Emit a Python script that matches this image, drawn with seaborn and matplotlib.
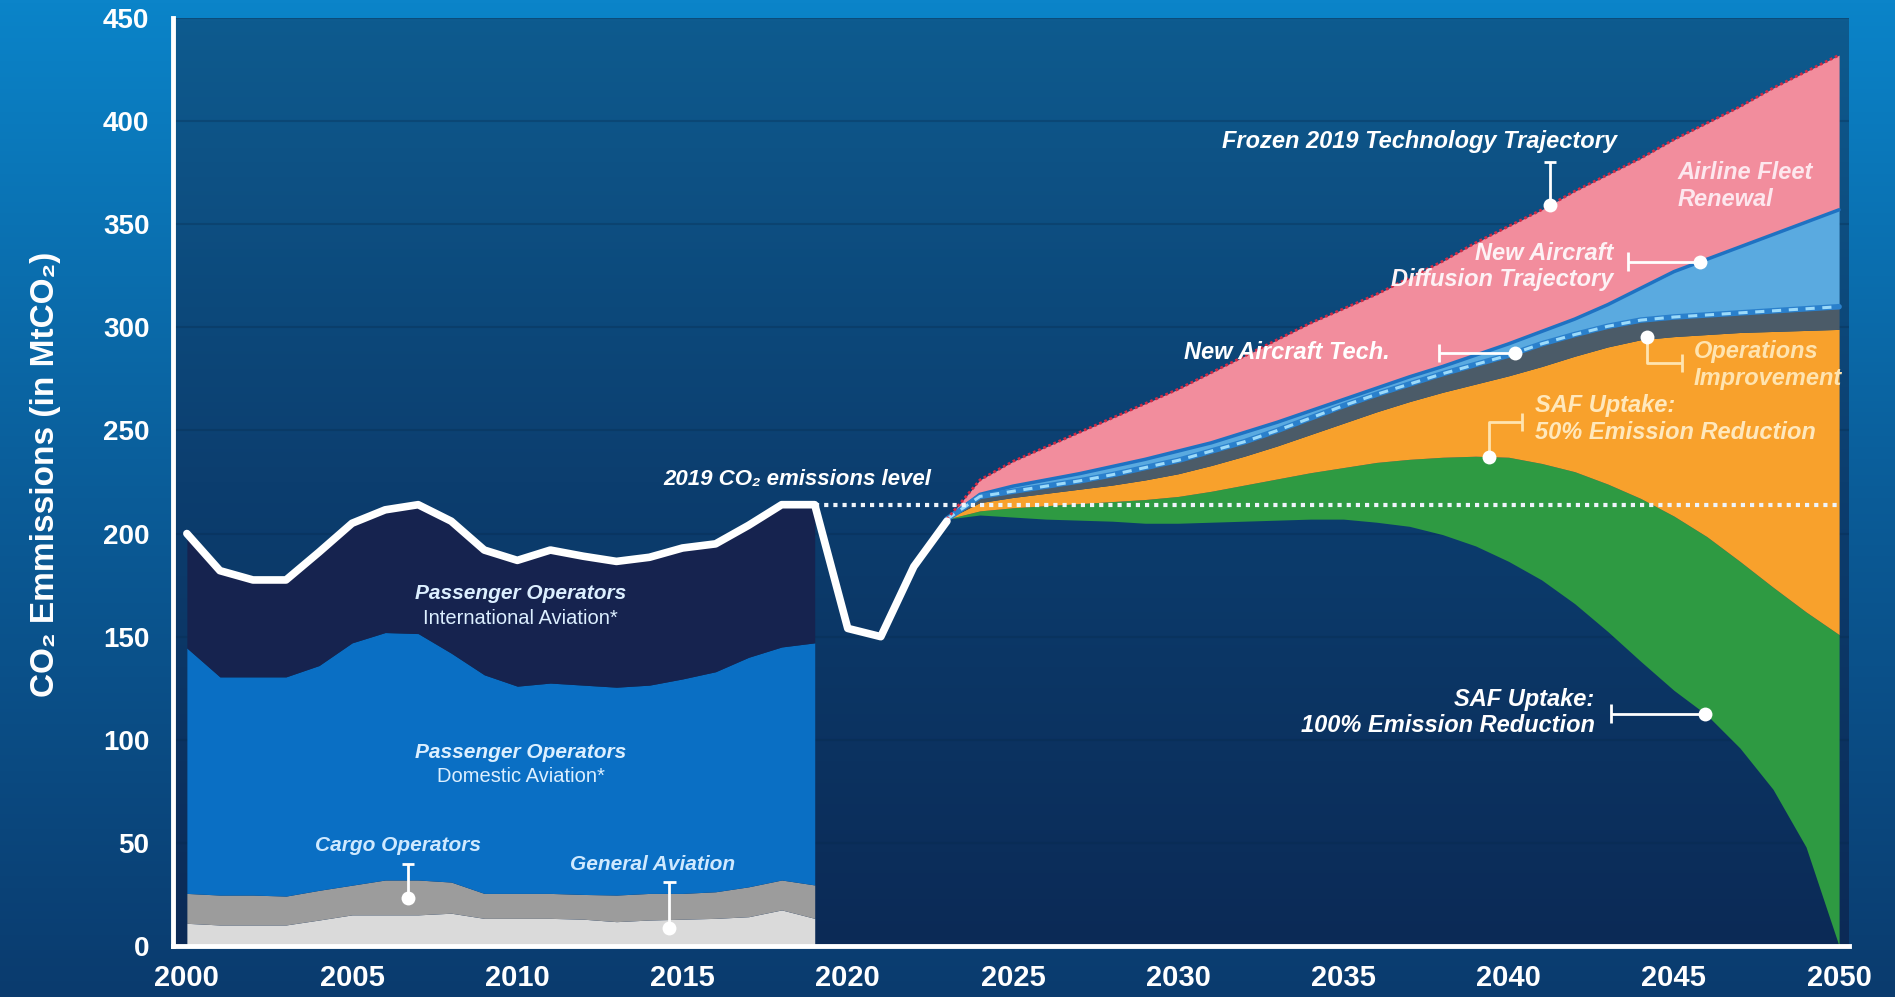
import numpy as np
import pandas as pd
import seaborn as sns
import matplotlib.pyplot as plt
from matplotlib.colors import LinearSegmentedColormap

# === DATA ===

#historical emissions by segment, upper edge of each stacked band (MtCO2)
hist_years = list(range(2000, 2020))
general_aviation = [11, 10.2, 10.2, 10.2, 12.6, 15.1, 15.1, 15.1, 15.9, 13.4,
                    13.4, 13.4, 13, 11.8, 12.6, 13, 13.4, 14.2, 17.5, 13.4]
cargo_top = [25.5, 24.7, 24.7, 24.2, 27, 29.5, 32, 32, 31, 25.5,
             25.5, 25.5, 25, 24.7, 25.5, 25.5, 26.3, 28.7, 32, 29.6]
domestic_top = [144.5, 130.5, 130.5, 130.5, 136, 147, 152, 151.5, 142, 131.5,
                126, 127.5, 126.5, 125.5, 126.5, 129.5, 133, 140, 145, 147]

#total emissions (white line) 2000-2023
total_years = list(range(2000, 2024))
total = [200, 182, 177.5, 177.5, 191, 205, 211.5, 214, 206, 192,
         187, 192, 189, 186.5, 188.5, 193, 195, 204, 214, 214,
         154, 150, 184, 206]

level_2019 = 214

#projection 2023-2050, upper edge of each wedge
proj_years = list(range(2023, 2051))
frozen_traj = [207, 226, 235, 242, 249, 256, 263, 270, 278, 286,
               294, 302, 309, 316, 324, 332, 341, 349, 357, 366,
               374, 382, 391, 399, 407, 416, 424, 432]
diffusion_traj = [207, 219, 223, 226, 229, 232.5, 236, 240, 244, 249,
                  254, 259.5, 265, 270.5, 276, 281, 286.5, 292, 298, 304,
                  311, 319, 327, 333, 339, 345, 351, 357]
new_tech_traj = [207, 218, 220.5, 223, 225.5, 228.5, 232, 235.5, 240, 244.5,
                 250, 256, 262, 267.5, 272.5, 277.5, 282, 286.5, 292, 296.5,
                 300.5, 303.5, 305, 306, 307, 308, 309, 310]
ops_traj = [207, 215, 217.5, 219.5, 221.5, 223.5, 226, 229, 233, 237.5,
            242.5, 248, 253.5, 259, 264, 268.5, 272.5, 276.5, 281, 286,
            290.5, 294, 295.5, 296.5, 297.5, 298, 298.5, 299]
saf50_traj = [207, 211, 212.5, 213.5, 214.5, 215.5, 216.5, 218, 220.5, 223.5,
              226.5, 229.5, 232, 234.5, 236, 237, 237.5, 237, 234, 230,
              224, 217, 208.5, 198.5, 186.5, 174, 162, 151]
residual = [207, 209, 208, 207, 206.5, 206, 205, 205, 205.5, 206,
            206.5, 207, 207, 205.5, 203.5, 199.5, 194, 186.5, 177.5, 166,
            152.5, 138, 124, 112, 96, 76, 48, 0]

hist = pd.DataFrame({'year': total_years, 'total': total})
proj = pd.DataFrame({'year': proj_years, 'frozen': frozen_traj, 'diffusion': diffusion_traj,
                     'new_tech': new_tech_traj, 'ops': ops_traj, 'saf50': saf50_traj,
                     'residual': residual})

# === FIGURE ===

sns.set_theme(style="white")
plt.rcParams['font.family'] = ['Liberation Sans', 'DejaVu Sans']

fig = plt.figure(figsize=(18.95, 9.97), dpi=100)

#outer background gradient
bg = fig.add_axes([0, 0, 1, 1], zorder=-10)
outer_cmap = LinearSegmentedColormap.from_list('outer', ['#0b3b6e', '#0a5c98', '#0b84c9'])
bg.imshow(np.linspace(0, 1, 256).reshape(-1, 1), cmap=outer_cmap, aspect='auto',
          origin='lower', extent=[0, 1, 0, 1])
bg.axis('off')

x0, x1 = 1999.58, 2050.3
ax = fig.add_axes([173 / 1895, 1 - 946 / 997, (1849 - 173) / 1895, (946 - 18) / 997])

#plot panel gradient
panel_cmap = LinearSegmentedColormap.from_list('panel', ['#0b2a56', '#0c3e6f', '#0e5b8f'])
ax.imshow(np.linspace(0, 1, 256).reshape(-1, 1), cmap=panel_cmap, aspect='auto',
          origin='lower', extent=[x0, x1, 0, 450], zorder=0)

#historical stacked areas
ax.fill_between(hist_years, 0, general_aviation, color='#dadada', lw=0, zorder=2)
ax.fill_between(hist_years, general_aviation, cargo_top, color='#9c9c9c', lw=0, zorder=2)
ax.fill_between(hist_years, cargo_top, domestic_top, color='#0a6fc4', lw=0, zorder=2)
ax.fill_between(hist_years, domestic_top, total[:20], color='#16234f', lw=0, zorder=2)

#projection wedges
ax.fill_between(proj['year'], proj['residual'], proj['saf50'], color='#2e9a42', lw=0, zorder=2)
ax.fill_between(proj['year'], proj['saf50'], proj['ops'], color='#f8a12c', lw=0, zorder=2)
ax.fill_between(proj['year'], proj['ops'], proj['new_tech'], color='#4b5b68', lw=0, zorder=2)
ax.fill_between(proj['year'], proj['new_tech'], proj['diffusion'], color='#5aaae0', lw=0, zorder=2)
ax.fill_between(proj['year'], proj['diffusion'], proj['frozen'], color='#f28d9d', lw=0, zorder=2)

#trajectory lines
sns.lineplot(data=proj, x='year', y='diffusion', color='#1f72c2', lw=2.5, ax=ax, zorder=4)
sns.lineplot(data=proj, x='year', y='new_tech', color='#2a80cc', lw=4, ax=ax, zorder=4)
sns.lineplot(data=proj, x='year', y='new_tech', color='#9bdafa', lw=2.2, ax=ax, zorder=5)
ax.lines[-1].set_linestyle((0, (3, 2.5)))
sns.lineplot(data=proj, x='year', y='frozen', color='#d42a45', lw=2, ax=ax, zorder=5)
ax.lines[-1].set_linestyle((0, (1, 1)))

#2019 level dotted line
sns.lineplot(x=[2019, 2050], y=[level_2019, level_2019], color='#eef4fa', lw=3, ax=ax, zorder=6)
ax.lines[-1].set_linestyle((0, (1, 1.2)))

#total emissions line
sns.lineplot(data=hist, x='year', y='total', color='white', lw=5.5, ax=ax, zorder=8)

# === ANNOTATIONS ===

def leader(xs, ys, color='white'):
    ax.plot(xs, ys, color=color, lw=2, zorder=9, solid_capstyle='butt')

def dot(x, y):
    ax.plot(x, y, 'o', ms=10, color='white', mec='none', zorder=10)

lab_blue = '#dcefff'
ax.text(2010.1, 171, 'Passenger Operators', ha='center', va='center', fontsize=15,
        style='italic', weight='bold', color=lab_blue, zorder=11)
ax.text(2010.1, 159, 'International Aviation*', ha='center', va='center', fontsize=14.5,
        color=lab_blue, zorder=11)
ax.text(2010.1, 94, 'Passenger Operators', ha='center', va='center', fontsize=15,
        style='italic', weight='bold', color=lab_blue, zorder=11)
ax.text(2010.1, 82, 'Domestic Aviation*', ha='center', va='center', fontsize=14.5,
        color=lab_blue, zorder=11)

ax.text(2006.4, 48.5, 'Cargo Operators', ha='center', va='center', fontsize=15,
        style='italic', weight='bold', color='#cfe9ff', zorder=11)
leader([2006.69, 2006.69], [40, 23.3])
leader([2006.5, 2006.88], [40, 40])
dot(2006.69, 23.3)

ax.text(2014.1, 39.3, 'General Aviation', ha='center', va='center', fontsize=15,
        style='italic', weight='bold', color='#cfe9ff', zorder=11)
leader([2014.6, 2014.6], [31, 8.7])
leader([2014.41, 2014.79], [31, 31])
dot(2014.6, 8.7)

ax.text(2018.46, 226, '2019 CO₂ emissions level', ha='center', va='center', fontsize=16,
        style='italic', weight='bold', color='white', zorder=11)

ax.text(2037.3, 390, 'Frozen 2019 Technology Trajectory', ha='center', va='center',
        fontsize=17, style='italic', weight='bold', color='white', zorder=11)
fy = np.interp(2041.25, proj_years, frozen_traj)
leader([2041.25, 2041.25], [380, fy])
leader([2041.06, 2041.44], [380, 380])
dot(2041.25, fy)

ax.text(2045.1, 368.6, 'Airline Fleet\nRenewal', ha='left', va='center', fontsize=17,
        style='italic', weight='bold', color='#fde7ee', linespacing=1.2, zorder=11)

ax.text(2043.16, 329.5, 'New Aircraft\nDiffusion Trajectory', ha='right', va='center',
        multialignment='right', fontsize=17, style='italic', weight='bold',
        color='#fdf2f5', linespacing=1.2, zorder=11)
dy = np.interp(2045.8, proj_years, diffusion_traj)
leader([2043.6, 2045.8], [dy, dy])
leader([2043.6, 2043.6], [dy - 4.5, dy + 4.5])
dot(2045.8, dy)

ax.text(2036.4, 287.6, 'New Aircraft Tech.', ha='right', va='center', fontsize=17,
        style='italic', weight='bold', color='white', zorder=11)
ny = np.interp(2040.2, proj_years, new_tech_traj)
leader([2037.9, 2040.2], [ny, ny])
leader([2037.9, 2037.9], [ny - 4.5, ny + 4.5])
dot(2040.2, ny)

cream = '#ffe4b0'
ax.text(2045.6, 281.8, 'Operations\nImprovement', ha='left', va='center', fontsize=17,
        style='italic', weight='bold', color=cream, linespacing=1.2, zorder=11)
oy = np.interp(2044.2, proj_years, ops_traj) + 1
leader([2044.2, 2044.2, 2045.25], [oy, 282.7, 282.7], color=cream)
leader([2045.25, 2045.25], [278.2, 287.2], color=cream)
dot(2044.2, oy)

ax.text(2040.8, 255.6, 'SAF Uptake:\n50% Emission Reduction', ha='left', va='center',
        fontsize=17, style='italic', weight='bold', color='#ffe8bc', linespacing=1.2, zorder=11)
sy = np.interp(2039.4, proj_years, saf50_traj)
leader([2039.4, 2039.4, 2040.4], [sy, 254, 254], color=cream)
leader([2040.4, 2040.4], [249.5, 258.5], color=cream)
dot(2039.4, sy)

ax.text(2042.6, 113.2, 'SAF Uptake:\n100% Emission Reduction', ha='right', va='center',
        multialignment='right', fontsize=17, style='italic', weight='bold',
        color='white', linespacing=1.2, zorder=11)
ry = np.interp(2045.94, proj_years, residual)
leader([2043.1, 2045.94], [ry, ry])
leader([2043.1, 2043.1], [ry - 4.5, ry + 4.5])
dot(2045.94, ry)

# === AXES STYLE ===

ax.set_xlim(x0, x1)
ax.set_ylim(0, 450)
ax.set_xticks(range(2000, 2051, 5), labels=[str(y) for y in range(2000, 2051, 5)],
              fontweight='bold')
ax.set_xticks(range(2000, 2051), minor=True)
ax.set_yticks(range(0, 451, 50), labels=[str(v) for v in range(0, 451, 50)],
              fontweight='bold')
ax.tick_params(axis='x', which='major', length=9, width=2.5, color='white', direction='out',
               pad=4, labelsize=21, labelcolor='white')
ax.tick_params(axis='x', which='minor', length=4.5, width=1.8, color='white', direction='out')
ax.tick_params(axis='y', length=0, pad=17, labelsize=20, labelcolor='white')
ax.set_xlabel('')
ax.set_ylabel('')
ax.set_axisbelow(True)
ax.grid(axis='y', color='#072a4c', alpha=0.3, lw=1.5)
ax.grid(axis='x', visible=False)

sns.despine(ax=ax, top=True, right=True)
for side in ['left', 'bottom']:
    ax.spines[side].set_color('white')
    ax.spines[side].set_linewidth(3.5)
    ax.spines[side].set_zorder(12)

fig.text(46 / 1895, 1 - 474 / 997, 'CO₂ Emmissions (in MtCO₂)', rotation=90, ha='center',
         va='center', fontsize=24, fontweight='bold', color='white')

fig.savefig('out.png', dpi=100)
